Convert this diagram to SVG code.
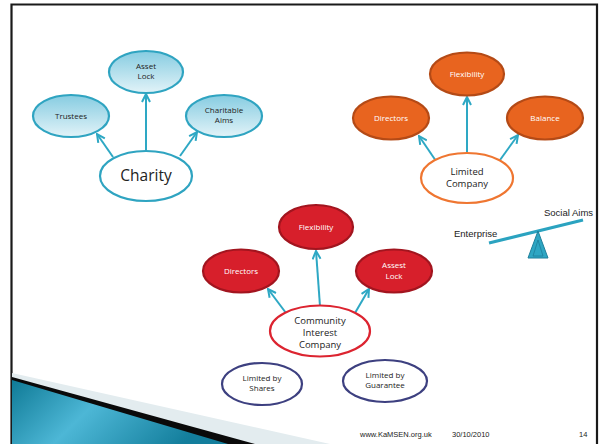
<svg xmlns="http://www.w3.org/2000/svg" width="600" height="444" viewBox="0 0 600 444">
<defs>
<linearGradient id="gBlue" x1="0" y1="0" x2="0" y2="1">
<stop offset="0" stop-color="#86cce1"/>
<stop offset="1" stop-color="#e2f3f8"/>
</linearGradient>
<linearGradient id="gTeal" x1="0" y1="0" x2="1" y2="0.3">
<stop offset="0" stop-color="#0f7a96"/>
<stop offset="0.45" stop-color="#4db7d6"/>
<stop offset="1" stop-color="#137e9c"/>
</linearGradient>
<marker id="arr" viewBox="0 0 10 10" refX="9" refY="5" markerWidth="5" markerHeight="5" orient="auto" markerUnits="strokeWidth">
<polyline points="1,1 9,5 1,9" fill="none" stroke="#2ea8c4" stroke-width="2"/>
</marker>
<style>
.t{font-family:"Open Sans","Noto Sans",sans-serif;text-anchor:middle;fill:#222}
.w{font-family:"Open Sans","Noto Sans",sans-serif;text-anchor:middle;fill:#fff}
.a{font-family:"Liberation Sans",Arial,sans-serif;fill:#222}
.blue{fill:url(#gBlue);stroke:#2fa4c1;stroke-width:2.2}
.bluew{fill:#fff;stroke:#2fa4c1;stroke-width:2.2}
.or{fill:#e8641f;stroke:#b44a16;stroke-width:2.2}
.orw{fill:#fff;stroke:#ef7631;stroke-width:2.2}
.red{fill:#d71f2b;stroke:#a2151f;stroke-width:2.2}
.redw{fill:#fff;stroke:#dc2430;stroke-width:2.2}
.nav{fill:#fff;stroke:#3d4080;stroke-width:2.2}
.c{stroke:#2ea8c4;stroke-width:2;fill:none;marker-end:url(#arr)}
</style>
</defs>
<rect x="0" y="0" width="600" height="444" fill="#fff"/>
<!-- slide frame -->
<path d="M11.5,444 V4.5 H597 V444" fill="none" stroke="#1a1a1a" stroke-width="2.2"/>
<!-- bottom-left decoration -->
<polygon points="12,373 330,444 12,444" fill="#e3ecef"/>
<polygon points="12,377 255,444 12,444" fill="#0a0a0a"/>
<polygon points="12,380 228,444 12,444" fill="url(#gTeal)"/>

<g id="connectors">
<line class="c" x1="146" y1="150" x2="146" y2="94"/>
<line class="c" x1="113" y1="157" x2="97" y2="134"/>
<line class="c" x1="180" y1="156" x2="197" y2="132"/>
<line class="c" x1="467" y1="152" x2="467" y2="97"/>
<line class="c" x1="436" y1="161" x2="419" y2="136"/>
<line class="c" x1="500" y1="160" x2="518" y2="135"/>
<line class="c" x1="320" y1="306" x2="316" y2="251"/>
<line class="c" x1="286" y1="313" x2="268" y2="289"/>
<line class="c" x1="355" y1="313" x2="369" y2="289"/>
</g>

<g id="asset-lock"><ellipse class="blue" cx="146" cy="72" rx="37" ry="21"/><text class="t" x="146" y="69" font-size="8">Asset</text><text class="t" x="146" y="79" font-size="8">Lock</text></g>
<g id="trustees"><ellipse class="blue" cx="71" cy="116" rx="38" ry="21"/><text class="t" x="71" y="119" font-size="8">Trustees</text></g>
<g id="charitable-aims"><ellipse class="blue" cx="224" cy="116" rx="38" ry="21"/><text class="t" x="224" y="113" font-size="8">Charitable</text><text class="t" x="224" y="123" font-size="8">Aims</text></g>
<g id="charity"><ellipse class="bluew" cx="146" cy="176" rx="46" ry="25"/><text class="t" x="146" y="181" font-size="15.5">Charity</text></g>

<g id="lc-flexibility"><ellipse class="or" cx="467" cy="74" rx="37" ry="21.5"/><text class="w" x="467" y="77" font-size="8">Flexibility</text></g>
<g id="lc-directors"><ellipse class="or" cx="391" cy="118" rx="38" ry="21.5"/><text class="w" x="391" y="121" font-size="8">Directors</text></g>
<g id="lc-balance"><ellipse class="or" cx="545" cy="118" rx="38" ry="21.5"/><text class="w" x="545" y="121" font-size="8">Balance</text></g>
<g id="limited-company"><ellipse class="orw" cx="467" cy="178" rx="46" ry="25"/><text class="t" x="467" y="175" font-size="9.5">Limited</text><text class="t" x="467" y="187" font-size="9.5">Company</text></g>

<g id="seesaw">
<line x1="489" y1="243" x2="583" y2="220" stroke="#2ba3c0" stroke-width="3"/>
<polygon points="538,231 528,258 548,258" fill="#2ea6c3" stroke="#1f7f9a" stroke-width="1"/>
<polygon points="538,240 533,256 543,256" fill="none" stroke="#1f7f9a" stroke-width="0.8"/>
<text class="a" x="544" y="216" font-size="9.5">Social Aims</text>
<text class="a" x="454" y="237" font-size="9.5">Enterprise</text>
</g>

<g id="cic-flexibility"><ellipse class="red" cx="316" cy="227" rx="37" ry="22"/><text class="w" x="316" y="230" font-size="8">Flexibility</text></g>
<g id="cic-directors"><ellipse class="red" cx="241" cy="271" rx="38" ry="21.5"/><text class="w" x="241" y="274" font-size="8">Directors</text></g>
<g id="cic-assest-lock"><ellipse class="red" cx="394" cy="271" rx="38" ry="21.5"/><text class="w" x="394" y="268" font-size="8">Assest</text><text class="w" x="394" y="279" font-size="8">Lock</text></g>
<g id="cic"><ellipse class="redw" cx="320" cy="331" rx="50" ry="25.5"/><text class="t" x="320" y="323.5" font-size="9.5">Community</text><text class="t" x="320" y="335.5" font-size="9.5">Interest</text><text class="t" x="320" y="347.5" font-size="9.5">Company</text></g>

<g id="limited-by-shares"><ellipse class="nav" cx="262" cy="384" rx="40" ry="21"/><text class="t" x="262" y="381" font-size="8">Limited by</text><text class="t" x="262" y="391" font-size="8">Shares</text></g>
<g id="limited-by-guarantee"><ellipse class="nav" cx="385" cy="381" rx="42" ry="21"/><text class="t" x="385" y="378" font-size="8">Limited by</text><text class="t" x="385" y="388" font-size="8">Guarantee</text></g>

<g id="footer">
<text class="a" x="360" y="437" font-size="7.5">www.KaMSEN.org.uk</text>
<text class="a" x="452" y="437" font-size="7.5">30/10/2010</text>
<text class="a" x="579" y="437" font-size="7.5">14</text>
</g>
</svg>
